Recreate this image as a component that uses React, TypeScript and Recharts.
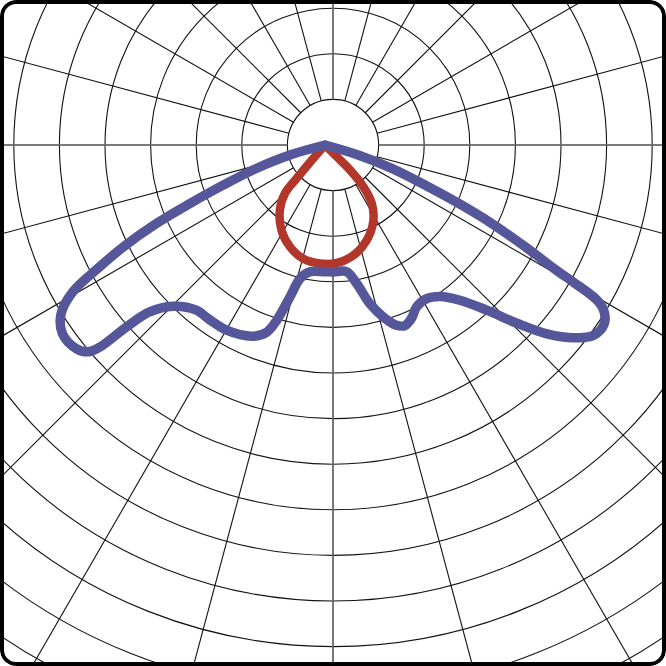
import { RadarChart, Radar, PolarGrid, PolarAngleAxis, PolarRadiusAxis } from 'recharts';

// polar light distribution: gamma 0 = straight down, + to the right, - to the left
// values are in ring units (one ring of the grid = 1)

const gridAngles = [0, 15, 30, 45, 60, 75, 90, 105, 120, 135, 150, 165, 180, 195, 210, 225, 240, 255, 270, 285, 300, 315, 330, 345];
const axisAngles = [0, 90, 180, 270];
const gridRings = [1, 2, 3, 4, 5, 6, 7, 8, 9, 10, 11, 12, 13, 14];

const blueAngles = [
  -77, -74.1, -71.2, -68.5, -66.6, -65.05, -63.2, -61.6, -59.8, -57.4, -54.3, -50.7, -48.9, -48.1, -47.5,
  -46.4, -43.3, -37.9, -34, -28, -20.6, -17.3, -15.4, -13, -10.6, -6.8, 0, 3.6, 9.7, 12.9, 15.8, 18.7,
  21.6, 23.9, 26.5, 29.5, 33.5, 37.2, 41, 44.4, 47.1, 49.6, 52.2, 54.7, 57.4, 59.3, 60.3, 61.1, 61.5,
  63.05, 64.8, 66.4, 68.2, 70.7, 73.3, 76,
];
const blueValues = [
  0, 0.8, 1.58, 2.4, 3.22, 4.07, 4.95, 5.62, 6.4, 6.87, 7.09, 7.05, 6.9, 6.64, 5.91,
  5.31, 4.86, 4.59, 4.59, 4.6, 4.48, 4.3, 3.99, 3.42, 2.98, 2.8, 2.78, 2.79, 2.82, 3.12, 3.62, 3.98,
  4.25, 4.33, 4.25, 4.08, 4.04, 4.17, 4.51, 5.07, 5.74, 6.39, 6.9, 7.22, 7.27, 7.11, 6.87, 6.22, 5.82,
  4.92, 4.04, 3.19, 2.36, 1.55, 0.76, 0,
];

const redAngles = [-44, -41, -40.4, -39.6, -34.7, -27, -19, -10.8, -2.4, 5.7, 14.4, 23.7, 32.8, 38.7, 42.6, 45, 45, 46];
const redValues = [0, 0.52, 0.96, 1.38, 1.74, 2.1, 2.36, 2.54, 2.6, 2.6, 2.5, 2.28, 1.96, 1.64, 1.24, 0.78, 0.36, 0];

const SIZE = 666;
const UNIT = 45.6;
const MAX_RING = 14;
const GRID_CX = 333;
const CURVE_CX = 325;
const CY = 145;

const toRows = (angles: number[], values: number[]) => angles.map((g, i) => ({ g, v: values[i] }));

// centripetal catmull-rom through the radar points
const smoothPath = (pts: { x: number; y: number }[]) => {
  if (!pts || !pts.length) return '';
  let d = `M${pts[0].x},${pts[0].y}`;
  for (let i = 0; i < pts.length - 1; i++) {
    const p0 = pts[i - 1] ?? pts[i];
    const p1 = pts[i];
    const p2 = pts[i + 1];
    const p3 = pts[i + 2] ?? pts[i + 1];
    const l01 = Math.hypot(p1.x - p0.x, p1.y - p0.y);
    const l12 = Math.hypot(p2.x - p1.x, p2.y - p1.y);
    const l23 = Math.hypot(p3.x - p2.x, p3.y - p2.y);
    const a01 = Math.sqrt(l01);
    const a12 = Math.sqrt(l12);
    const a23 = Math.sqrt(l23);
    let c1x = p1.x, c1y = p1.y, c2x = p2.x, c2y = p2.y;
    if (a01 > 1e-6) {
      const a = 2 * l01 + 3 * a01 * a12 + l12;
      const n = 3 * a01 * (a01 + a12);
      c1x = (p1.x * a - p0.x * l12 + p2.x * l01) / n;
      c1y = (p1.y * a - p0.y * l12 + p2.y * l01) / n;
    }
    if (a23 > 1e-6) {
      const b = 2 * l23 + 3 * a23 * a12 + l12;
      const m = 3 * a23 * (a23 + a12);
      c2x = (p2.x * b + p1.x * l23 - p3.x * l12) / m;
      c2y = (p2.y * b + p1.y * l23 - p3.y * l12) / m;
    }
    d += ` C${c1x},${c1y} ${c2x},${c2y} ${p2.x},${p2.y}`;
  }
  return d;
};

const layer: React.CSSProperties = { position: 'absolute', left: 0, top: 0 };

const CurveChart = ({ angles, values, color, width }: { angles: number[]; values: number[]; color: string; width: number }) => (
  <div style={layer}>
    <RadarChart
      width={SIZE}
      height={SIZE}
      data={toRows(angles, values)}
      cx={CURVE_CX}
      cy={CY}
      innerRadius={0}
      outerRadius={UNIT * MAX_RING}
      startAngle={-270}
      endAngle={90}
      margin={{ top: 0, right: 0, bottom: 0, left: 0 }}
    >
      <PolarAngleAxis dataKey="g" type="number" domain={[-180, 180]} tick={false} axisLine={false} tickLine={false} />
      <PolarRadiusAxis type="number" domain={[0, MAX_RING]} allowDataOverflow tick={false} axisLine={false} tickLine={false} />
      <Radar
        dataKey="v"
        isAnimationActive={false}
        dot={false}
        activeDot={false}
        shape={(p: any) => (
          <path d={smoothPath(p.points)} fill="none" stroke={color} strokeWidth={width} strokeLinejoin="round" strokeLinecap="round" />
        )}
      />
    </RadarChart>
  </div>
);

export default function App() {
  return (
    <div style={{ position: 'absolute', left: 0, top: 0, width: SIZE, height: SIZE, background: '#fff', overflow: 'hidden', borderRadius: 16 }}>
      <div style={layer}>
        <RadarChart
          width={SIZE}
          height={SIZE}
          data={toRows(blueAngles, blueValues)}
          cx={GRID_CX}
          cy={CY}
          innerRadius={UNIT}
          outerRadius={UNIT * MAX_RING}
          startAngle={-270}
          endAngle={90}
          margin={{ top: 0, right: 0, bottom: 0, left: 0 }}
        >
          <PolarGrid
            gridType="circle"
            polarAngles={gridAngles}
            polarRadius={gridRings.map((k) => k * UNIT)}
            stroke="#111"
            strokeWidth={1.1}
          />
          <PolarGrid gridType="circle" polarAngles={axisAngles} polarRadius={[]} stroke="#777" strokeWidth={1.4} />
        </RadarChart>
      </div>
      <CurveChart angles={redAngles} values={redValues} color="#B3362B" width={8.5} />
      <CurveChart angles={blueAngles} values={blueValues} color="#56579A" width={9.5} />
      <div
        style={{
          position: 'absolute',
          left: 0,
          top: 0,
          width: SIZE,
          height: SIZE,
          boxSizing: 'border-box',
          border: '4.5px solid #000',
          borderRadius: 16,
        }}
      />
    </div>
  );
}
